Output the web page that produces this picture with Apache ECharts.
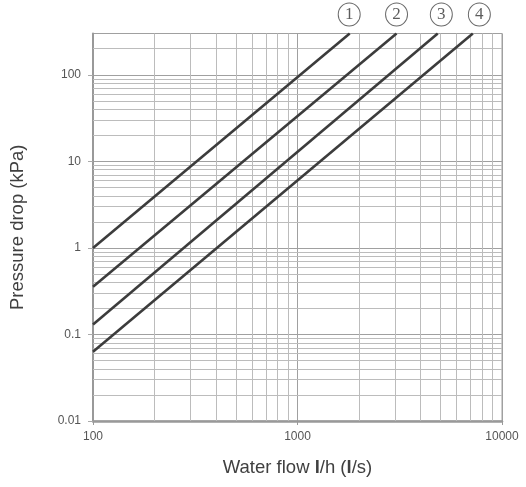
<!DOCTYPE html>
<html>
<head>
<meta charset="utf-8">
<script src="https://cdn.jsdelivr.net/npm/echarts@6/dist/echarts.min.js"></script>
<style>html,body{margin:0;padding:0;background:#fff}#c{width:526px;height:487px}</style>
</head>
<body>
<div id="c"></div>
<script>
// Data (log-log)
const curveNames = ['1', '2', '3', '4'];
const curve1 = [[100, 1.0], [1800, 300]];
const curve2 = [[100, 0.355], [3050, 300]];
const curve3 = [[100, 0.13], [4850, 300]];
const curve4 = [[100, 0.063], [7200, 300]];
const labelFlows = [1790, 3050, 5050, 7750];
const labelPressure = 300;
const xMinor = [200, 300, 400, 500, 600, 700, 800, 900, 2000, 3000, 4000, 5000, 6000, 7000, 8000, 9000];
const yMinor = [0.02, 0.03, 0.04, 0.05, 0.06, 0.07, 0.08, 0.09, 0.2, 0.3, 0.4, 0.5, 0.6, 0.7, 0.8, 0.9,
  2, 3, 4, 5, 6, 7, 8, 9, 20, 30, 40, 50, 60, 70, 80, 90, 200];
const xRange = [100, 10000];
const yRange = [0.01, 300];

const chart = echarts.init(document.getElementById('c'));
const font = 'Liberation Sans, Arial, sans-serif';
const lineStyle = { color: '#3c3c3c', width: 2.6 };
const minorStyle = { color: '#bcbcbc', width: 1, type: 'solid' };

const gridLines = xMinor.map(v => ({ xAxis: v }))
  .concat(yMinor.map(v => ({ yAxis: v })));

chart.setOption({
  animation: false,
  grid: { left: 93, right: 24, top: 33.5, bottom: 66, show: true, borderColor: '#a0a0a0', borderWidth: 1 },
  xAxis: {
    type: 'log', logBase: 10, min: xRange[0], max: xRange[1],
    name: 'Water flow {b|l}/h ({b|l}/s)', nameLocation: 'middle', nameGap: 37,
    nameTextStyle: { fontFamily: font, fontSize: 18.5, color: '#404040',
      rich: { b: { fontFamily: font, fontSize: 18.5, fontWeight: 'bold', color: '#404040' } } },
    axisLine: { show: true, lineStyle: { color: '#999', width: 2.5 } },
    axisTick: { show: true, length: 4, lineStyle: { color: '#999' } },
    axisLabel: { fontFamily: font, fontSize: 12, color: '#555', margin: 10, formatter: v => String(v) },
    splitLine: { show: true, lineStyle: { color: '#a0a0a0', width: 1 } }
  },
  yAxis: {
    type: 'log', logBase: 10, min: yRange[0], max: yRange[1],
    name: 'Pressure drop (kPa)', nameLocation: 'middle', nameGap: 66,
    nameTextStyle: { fontFamily: font, fontSize: 18.5, color: '#404040' },
    axisLine: { show: true, lineStyle: { color: '#999', width: 2 } },
    axisTick: { show: true, length: 5, lineStyle: { color: '#aaa' } },
    axisLabel: { fontFamily: font, fontSize: 12, color: '#555', margin: 12, showMaxLabel: false,
      formatter: v => String(v) },
    splitLine: { show: true, lineStyle: { color: '#a0a0a0', width: 1 } }
  },
  series: [
    { type: 'line', data: curve1, symbol: 'none', lineStyle, z: 5,
      markLine: { silent: true, symbol: 'none', label: { show: false }, lineStyle: minorStyle, data: gridLines, z: 1 } },
    { type: 'line', data: curve2, symbol: 'none', lineStyle, z: 5 },
    { type: 'line', data: curve3, symbol: 'none', lineStyle, z: 5 },
    { type: 'line', data: curve4, symbol: 'none', lineStyle, z: 5 },
    {
      type: 'scatter', clip: false, z: 6,
      data: labelFlows.map((x, i) => ({ value: [x, labelPressure], name: curveNames[i] })),
      symbol: 'circle', symbolSize: [22, 23], symbolOffset: [0, -19],
      itemStyle: { color: '#fff', borderColor: '#444', borderWidth: 1 },
      label: { show: true, position: 'inside', formatter: p => p.name,
        fontFamily: 'Liberation Serif, DejaVu Serif, serif', fontSize: 17, color: '#333' }
    }
  ]
});
</script>
</body>
</html>
